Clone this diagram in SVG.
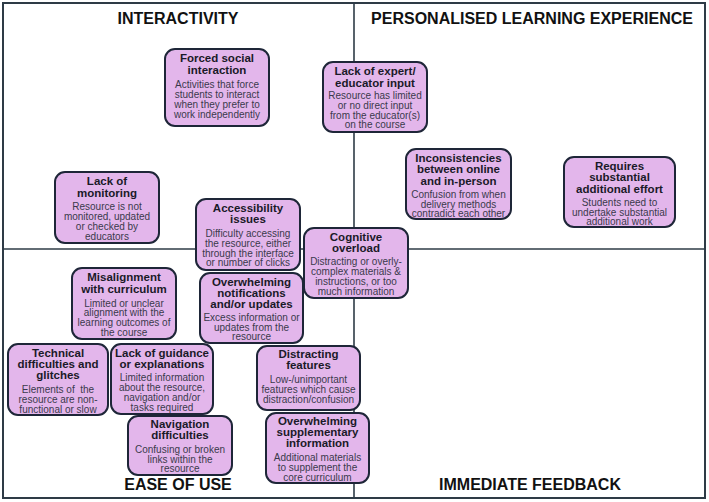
<svg xmlns="http://www.w3.org/2000/svg" width="709" height="502" viewBox="0 0 709 502">
<style>
.frame{fill:none;stroke:#2e3b46;stroke-width:2}
.grid{stroke:#2e3b46;stroke-width:1.6}
.box{fill:#e3b6eb;stroke:#1e2638;stroke-width:2}
.h{font-family:"Liberation Sans",Arial,sans-serif;font-weight:bold;font-size:16px;fill:#111;text-anchor:middle}
.t{font-family:"Liberation Sans",Arial,sans-serif;font-weight:bold;font-size:11.5px;fill:#1a1a28;text-anchor:middle}
.d{font-family:"Liberation Sans",Arial,sans-serif;font-size:10px;fill:#3a3a4c;text-anchor:middle}
</style>
<rect width="709" height="502" fill="#ffffff"/>
<g id="quadrants">
<rect class="frame" x="3" y="3" width="702" height="495"/>
<line class="grid" x1="3" y1="249" x2="705" y2="249"/>
<line class="grid" x1="354" y1="3" x2="354" y2="498"/>
</g>
<g id="headings">
<text class="h" x="178" y="24">INTERACTIVITY</text>
<text class="h" x="532" y="24">PERSONALISED LEARNING EXPERIENCE</text>
<text class="h" x="178" y="490">EASE OF USE</text>
<text class="h" x="530" y="490">IMMEDIATE FEEDBACK</text>
</g>
<g id="connectors"></g>
<g id="forced-social-interaction">
<rect class="box" x="165" y="49" width="104" height="77" rx="10"/>
<text class="t" x="217" y="62">Forced social</text>
<text class="t" x="217" y="74">interaction</text>
<text class="d" x="217" y="87.5">Activities that force</text>
<text class="d" x="217" y="97.5">students to interact</text>
<text class="d" x="217" y="107.5">when they prefer to</text>
<text class="d" x="217" y="117.5">work independently</text>
</g>
<g id="lack-of-expert-input">
<rect class="box" x="323" y="62" width="104" height="70" rx="10"/>
<text class="t" x="375" y="75">Lack of expert/</text>
<text class="t" x="375" y="86.5">educator input</text>
<text class="d" x="375" y="98.5">Resource has limited</text>
<text class="d" x="375" y="108.5">or no direct input</text>
<text class="d" x="375" y="118.5">from the educator(s)</text>
<text class="d" x="375" y="128">on the course</text>
</g>
<g id="inconsistencies">
<rect class="box" x="406" y="149" width="105" height="70" rx="10"/>
<text class="t" x="458.5" y="161.5">Inconsistencies</text>
<text class="t" x="458.5" y="173">between online</text>
<text class="t" x="458.5" y="184.5">and in-person</text>
<text class="d" x="458.5" y="197.5">Confusion from when</text>
<text class="d" x="458.5" y="207.5">delivery methods</text>
<text class="d" x="458.5" y="217">contradict each other</text>
</g>
<g id="requires-effort">
<rect class="box" x="564" y="157" width="111" height="70" rx="10"/>
<text class="t" x="619.5" y="169.5">Requires</text>
<text class="t" x="619.5" y="181">substantial</text>
<text class="t" x="619.5" y="192.5">additional effort</text>
<text class="d" x="619.5" y="205.5">Students need to</text>
<text class="d" x="619.5" y="215.5">undertake substantial</text>
<text class="d" x="619.5" y="225">additional work</text>
</g>
<g id="lack-of-monitoring">
<rect class="box" x="55" y="172" width="104" height="71" rx="10"/>
<text class="t" x="107" y="185">Lack of</text>
<text class="t" x="107" y="196.5">monitoring</text>
<text class="d" x="107" y="209.5">Resource is not</text>
<text class="d" x="107" y="219.5">monitored, updated</text>
<text class="d" x="107" y="229.5">or checked by</text>
<text class="d" x="107" y="239.5">educators</text>
</g>
<g id="accessibility-issues">
<rect class="box" x="196" y="199" width="104" height="71" rx="10"/>
<text class="t" x="248" y="211.5">Accessibility</text>
<text class="t" x="248" y="223">issues</text>
<text class="d" x="248" y="236.5">Difficulty accessing</text>
<text class="d" x="248" y="246.5">the resource, either</text>
<text class="d" x="248" y="256.5">through the interface</text>
<text class="d" x="248" y="266">or number of clicks</text>
</g>
<g id="cognitive-overload">
<rect class="box" x="304" y="228" width="104" height="70" rx="10"/>
<text class="t" x="356" y="240.5">Cognitive</text>
<text class="t" x="356" y="251.5">overload</text>
<text class="d" x="356" y="264.5">Distracting or overly-</text>
<text class="d" x="356" y="274.5">complex materials &amp;</text>
<text class="d" x="356" y="284.5">instructions, or too</text>
<text class="d" x="356" y="294.5">much information</text>
</g>
<g id="overwhelming-notifications">
<rect class="box" x="200" y="273" width="103" height="70" rx="10"/>
<text class="t" x="251.5" y="285.5">Overwhelming</text>
<text class="t" x="251.5" y="296.5">notifications</text>
<text class="t" x="251.5" y="307.5">and/or updates</text>
<text class="d" x="251.5" y="320.5">Excess information or</text>
<text class="d" x="251.5" y="330.5">updates from the</text>
<text class="d" x="251.5" y="340">resource</text>
</g>
<g id="misalignment-with-curriculum">
<rect class="box" x="72" y="268" width="104" height="71" rx="10"/>
<text class="t" x="124" y="281">Misalignment</text>
<text class="t" x="124" y="292.5">with curriculum</text>
<text class="d" x="124" y="306.5">Limited or unclear</text>
<text class="d" x="124" y="316">alignment with the</text>
<text class="d" x="124" y="326">learning outcomes of</text>
<text class="d" x="124" y="335.5">the course</text>
</g>
<g id="technical-difficulties">
<rect class="box" x="8" y="344" width="100" height="71" rx="10"/>
<text class="t" x="58" y="357">Technical</text>
<text class="t" x="58" y="368">difficulties and</text>
<text class="t" x="58" y="379">glitches</text>
<text class="d" x="58" y="392.5" xml:space="preserve">Elements of  the</text>
<text class="d" x="58" y="402.5">resource are non-</text>
<text class="d" x="58" y="412.5">functional or slow</text>
</g>
<g id="lack-of-guidance">
<rect class="box" x="111" y="344" width="102" height="70" rx="10"/>
<text class="t" x="162" y="357">Lack of guidance</text>
<text class="t" x="162" y="368">or explanations</text>
<text class="d" x="162" y="380.5">Limited information</text>
<text class="d" x="162" y="390.5">about the resource,</text>
<text class="d" x="162" y="400.5">navigation and/or</text>
<text class="d" x="162" y="410.5">tasks required</text>
</g>
<g id="navigation-difficulties">
<rect class="box" x="128" y="416" width="104" height="59" rx="10"/>
<text class="t" x="180" y="428">Navigation</text>
<text class="t" x="180" y="439">difficulties</text>
<text class="d" x="180" y="452.5">Confusing or broken</text>
<text class="d" x="180" y="462.5">links within the</text>
<text class="d" x="180" y="472">resource</text>
</g>
<g id="distracting-features">
<rect class="box" x="257" y="346" width="103" height="64" rx="10"/>
<text class="t" x="308.5" y="358">Distracting</text>
<text class="t" x="308.5" y="369">features</text>
<text class="d" x="308.5" y="382.5">Low-/unimportant</text>
<text class="d" x="308.5" y="392.5">features which cause</text>
<text class="d" x="308.5" y="402.5">distraction/confusion</text>
</g>
<g id="overwhelming-supplementary">
<rect class="box" x="266" y="413" width="103" height="70" rx="10"/>
<text class="t" x="317.5" y="425">Overwhelming</text>
<text class="t" x="317.5" y="436">supplementary</text>
<text class="t" x="317.5" y="447">information</text>
<text class="d" x="317.5" y="460.5">Additional materials</text>
<text class="d" x="317.5" y="470.5">to supplement the</text>
<text class="d" x="317.5" y="480.5">core curriculum</text>
</g>
</svg>
